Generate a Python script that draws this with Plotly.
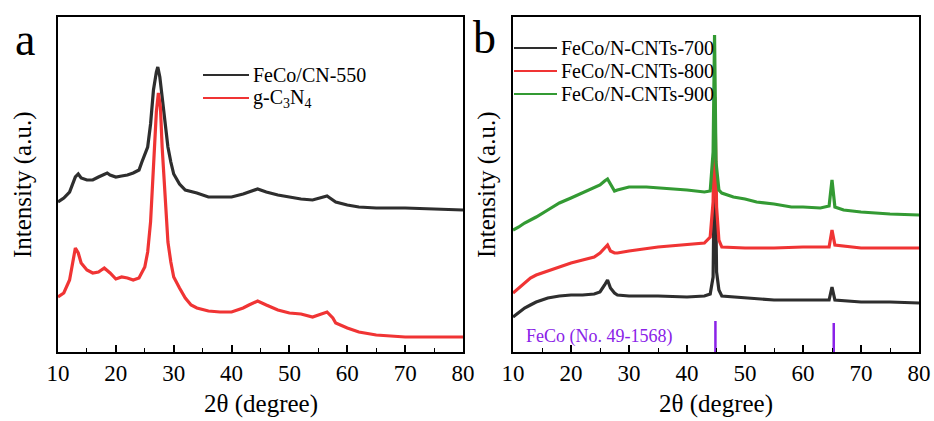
import plotly.graph_objects as go

# ---------------- data (arbitrary intensity units) -------------
# Panel a
a_black_x = [10, 11, 12, 12.5, 13, 13.5, 14, 15, 16, 17, 18, 18.5, 19, 20, 21, 22, 23, 24, 24.5, 25,
             25.5, 26, 26.5, 27, 27.25, 27.6, 28, 28.5, 29, 29.5, 30, 31, 32, 34, 36, 38, 40, 42, 44,
             44.5, 46, 48, 50, 52, 54, 56, 56.5, 57, 58, 60, 62, 65, 70, 75, 80]
a_black_y = [150, 154, 160, 168, 175, 178, 174, 172, 172, 175, 178, 179, 177, 175, 176, 177, 179, 182, 190, 197,
             205, 228, 262, 280, 285, 275, 255, 233, 205, 190, 178, 168, 162, 159, 155, 155, 155, 158, 162,
             163, 160, 157, 155, 153, 152, 155, 156, 154, 150, 147, 145, 144, 144, 143, 142]

a_red_x = [10, 11, 12, 12.5, 13, 13.5, 14, 15, 16, 17, 18, 19, 20, 21, 22, 23, 24, 25, 25.5, 26,
           26.5, 27, 27.35, 27.7, 28, 28.5, 29, 29.5, 30, 31, 32, 33, 34, 36, 38, 40, 42, 43, 44.5,
           46, 48, 50, 52, 54, 55, 56.5, 57.5, 58, 60, 62, 65, 70, 75, 80]
a_red_y = [55, 59, 72, 89, 104, 99, 89, 82, 79, 80, 84, 79, 73, 75, 74, 72, 74, 85, 100, 130,
           190, 240, 259, 245, 205, 160, 110, 90, 75, 64, 54, 47, 44, 41, 40, 40, 44, 47, 51,
           47, 42, 39, 38, 35, 37, 40, 34, 29, 24, 20, 17, 15, 15, 15]

# Panel b
b_700_x = [10, 11, 12, 13, 14, 16, 18, 20, 22, 24, 25, 25.8, 26.3, 26.8, 27.5, 28, 30, 35, 40, 43,
           44, 44.5, 44.8, 45.1, 45.5, 46, 50, 55, 60, 64.5, 65, 65.5, 70, 75, 80]
b_700_y = [35, 40, 44, 47, 50, 54, 56, 57, 57, 58, 60, 67, 72, 64, 59, 57, 56, 56, 55, 56,
           58, 75, 220, 80, 62, 56, 54, 52, 52, 52, 65, 52, 50, 50, 49]

b_800_x = [10, 11, 12, 13, 14, 16, 18, 20, 22, 24, 25, 25.8, 26.3, 26.8, 27.5, 28, 30, 35, 40, 43,
           44, 44.5, 44.8, 45.1, 45.5, 46, 50, 55, 60, 64.5, 65, 65.5, 70, 75, 80]
b_800_y = [59, 64, 70, 74, 77, 81, 85, 89, 92, 95, 99, 104, 107, 101, 99, 99, 101, 105, 107, 109,
           115, 150, 255, 145, 112, 105, 104, 104, 105, 105, 122, 107, 104, 104, 104]

b_900_x = [10, 11, 12, 13, 14, 16, 18, 20, 22, 24, 25, 25.8, 26.3, 26.8, 27.5, 28, 30, 33, 36, 40,
           43, 44, 44.5, 44.75, 45, 45.5, 46, 48, 50, 52, 55, 58, 60, 63, 64.5, 65, 65.5, 67, 70, 75, 80]
b_900_y = [122, 125, 129, 132, 135, 142, 149, 154, 159, 164, 167, 171, 173, 168, 161, 162, 165, 165, 164, 162,
           160, 161, 200, 317, 190, 162, 159, 155, 153, 150, 148, 145, 145, 144, 146, 172, 145, 142, 140, 138, 137]

feco_ref_pos = [44.9, 65.3]
feco_ref_height = [31, 29]

x_ticks = [10, 20, 30, 40, 50, 60, 70, 80]

BLACK = "#2e2e2e"
RED = "#f03434"
GREEN = "#339a33"
PURPLE = "#8a22e8"
FONT = "Times New Roman, Liberation Serif, Times, serif"

fig = go.Figure()

lw = 3.2
fig.add_trace(go.Scatter(x=a_black_x, y=a_black_y, mode="lines", line=dict(color=BLACK, width=lw),
                         xaxis="x", yaxis="y", showlegend=False))
fig.add_trace(go.Scatter(x=a_red_x, y=a_red_y, mode="lines", line=dict(color=RED, width=lw),
                         xaxis="x", yaxis="y", showlegend=False))
fig.add_trace(go.Scatter(x=b_700_x, y=b_700_y, mode="lines", line=dict(color=BLACK, width=lw),
                         xaxis="x2", yaxis="y2", showlegend=False))
fig.add_trace(go.Scatter(x=b_800_x, y=b_800_y, mode="lines", line=dict(color=RED, width=lw),
                         xaxis="x2", yaxis="y2", showlegend=False))
fig.add_trace(go.Scatter(x=b_900_x, y=b_900_y, mode="lines", line=dict(color=GREEN, width=lw),
                         xaxis="x2", yaxis="y2", showlegend=False))

ref_x, ref_y = [], []
for p, h in zip(feco_ref_pos, feco_ref_height):
    ref_x += [p, p, None]
    ref_y += [0, h, None]
fig.add_trace(go.Scatter(x=ref_x, y=ref_y, mode="lines", line=dict(color=PURPLE, width=2.5),
                         xaxis="x2", yaxis="y2", showlegend=False))

W, H = 934, 421
ytop, ybot = 17, 352
dom_y = [1 - ybot / H, 1 - ytop / H]

xaxis_common = dict(
    range=[10, 80], tickvals=x_ticks, ticks="inside", ticklen=7, tickwidth=1.5, tickcolor="black",
    showline=True, linecolor="black", linewidth=1.6, mirror=True, showgrid=False, zeroline=False,
    automargin=False,
    tickfont=dict(family=FONT, size=23, color="black"),
    minor=dict(dtick=5, ticks="inside", ticklen=4, tickwidth=1.2, tickcolor="black", showgrid=False),
)
yaxis_common = dict(
    range=[0, 335], showticklabels=False, ticks="", showline=True, linecolor="black", linewidth=1.6,
    mirror=True, showgrid=False, zeroline=False, automargin=False,
)

fig.update_layout(
    width=W, height=H, margin=dict(l=0, r=0, t=0, b=0, autoexpand=False),
    paper_bgcolor="white", plot_bgcolor="white",
    font=dict(family=FONT),
    xaxis=dict(domain=[58 / W, 463 / W], anchor="y", **xaxis_common),
    yaxis=dict(domain=dom_y, anchor="x", **yaxis_common),
    xaxis2=dict(domain=[513 / W, 919 / W], anchor="y2", **xaxis_common),
    yaxis2=dict(domain=dom_y, anchor="x2", **yaxis_common),
    showlegend=False,
)

ann = []
def pyc(py):
    return 1 - py / H

# axis titles
for xd in ([58 / W, 463 / W], [513 / W, 919 / W]):
    ann.append(dict(text="2θ (degree)", x=(xd[0] + xd[1]) / 2, y=pyc(420), xref="paper", yref="paper",
                    showarrow=False, font=dict(family=FONT, size=25, color="black"),
                    xanchor="center", yanchor="bottom"))
for xp in (23, 487):
    ann.append(dict(text="Intensity (a.u.)", x=xp / W, y=pyc(185), xref="paper", yref="paper",
                    showarrow=False, textangle=-90, font=dict(family=FONT, size=25, color="black"),
                    xanchor="center", yanchor="middle"))
# panel labels
ann.append(dict(text="a", x=13 / W, y=pyc(40), xref="paper", yref="paper", showarrow=False,
                font=dict(family=FONT, size=46, color="black"), xanchor="left", yanchor="middle"))
ann.append(dict(text="b", x=471 / W, y=pyc(38), xref="paper", yref="paper", showarrow=False,
                font=dict(family=FONT, size=46, color="black"), xanchor="left", yanchor="middle"))

shapes = []
# legend a
leg_a = [("FeCo/CN-550", BLACK, 75), ("g-C<sub>3</sub>N<sub>4</sub>", RED, 98)]
for txt, col, py in leg_a:
    shapes.append(dict(type="line", xref="paper", yref="paper", x0=203 / W, x1=249 / W,
                       y0=pyc(py), y1=pyc(py), line=dict(color=col, width=2)))
    ann.append(dict(text=txt, x=251 / W, y=pyc(py), xref="paper", yref="paper", showarrow=False,
                    font=dict(family=FONT, size=20, color="black"), xanchor="left", yanchor="middle"))
# legend b
leg_b = [("FeCo/N-CNTs-700", BLACK, 48), ("FeCo/N-CNTs-800", RED, 71), ("FeCo/N-CNTs-900", GREEN, 94)]
for txt, col, py in leg_b:
    shapes.append(dict(type="line", xref="paper", yref="paper", x0=514 / W, x1=557 / W,
                       y0=pyc(py), y1=pyc(py), line=dict(color=col, width=2)))
    ann.append(dict(text=txt, x=559 / W, y=pyc(py), xref="paper", yref="paper", showarrow=False,
                    font=dict(family=FONT, size=20, color="black"), xanchor="left", yanchor="middle"))
# reference label
ann.append(dict(text="FeCo (No. 49-1568)", x=524 / W, y=pyc(336), xref="paper", yref="paper",
                showarrow=False, font=dict(family=FONT, size=18, color=PURPLE),
                xanchor="left", yanchor="middle"))

fig.update_layout(annotations=ann, shapes=shapes)
fig.write_html("out.html")
